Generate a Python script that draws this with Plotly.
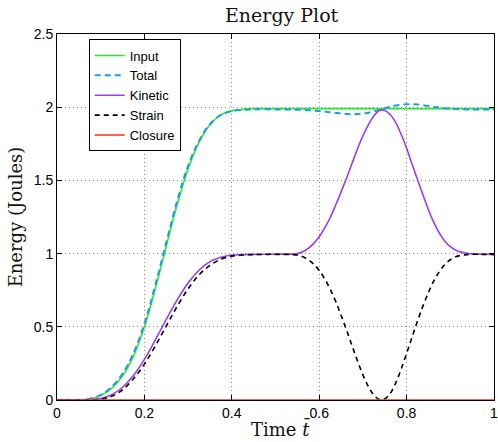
import plotly.graph_objects as go

# Sample times (normalised time t-bar): coarse through the first ramp,
# finer through the exchange between kinetic and strain energy.
t = [0, 0.025, 0.05, 0.075, 0.1, 0.125, 0.15, 0.175, 0.2, 0.225, 0.25, 0.275,
     0.3, 0.325, 0.35, 0.375, 0.4, 0.425, 0.45, 0.5,
     0.55, 0.5625, 0.575, 0.5875, 0.6, 0.6125, 0.625, 0.6375, 0.65, 0.6625,
     0.675, 0.6875, 0.7, 0.7125, 0.725, 0.7375, 0.75, 0.7625, 0.775, 0.7875,
     0.8, 0.8125, 0.825, 0.8375, 0.85, 0.8625, 0.875, 0.8875, 0.9, 0.9125,
     0.925, 0.9375, 0.95, 0.975, 1.0]

# Energy components (Joules)
energy_input = [0, 0, 0, 0.008, 0.03, 0.08, 0.165, 0.30, 0.50, 0.76, 1.05, 1.335,
                1.58, 1.76, 1.88, 1.948, 1.975, 1.985, 1.99, 1.99,
                1.99, 1.99, 1.99, 1.99, 1.99, 1.99, 1.99, 1.99, 1.99, 1.99,
                1.99, 1.99, 1.99, 1.99, 1.99, 1.99, 1.99, 1.99, 1.99, 1.99,
                1.99, 1.99, 1.99, 1.99, 1.99, 1.99, 1.99, 1.99, 1.99, 1.99,
                1.99, 1.99, 1.99, 1.99, 1.99]
energy_total = [0, 0, 0, 0.009, 0.035, 0.09, 0.18, 0.32, 0.52, 0.785, 1.075, 1.36,
                1.60, 1.77, 1.885, 1.948, 1.973, 1.982, 1.985, 1.985,
                1.983, 1.982, 1.98, 1.977, 1.974, 1.97, 1.965, 1.961, 1.957, 1.954,
                1.952, 1.953, 1.956, 1.962, 1.971, 1.982, 1.993, 2.003, 2.011, 2.017,
                2.02, 2.021, 2.019, 2.014, 2.008, 2.002, 1.997, 1.993, 1.99, 1.988,
                1.986, 1.985, 1.985, 1.985, 1.985]
energy_kinetic = [0, 0, 0, 0.002, 0.01, 0.036, 0.087, 0.167, 0.277, 0.41, 0.55, 0.684,
                  0.799, 0.886, 0.945, 0.975, 0.99, 0.993, 0.995, 0.996,
                  1.0, 1.012, 1.035, 1.07, 1.115, 1.175, 1.245, 1.33, 1.42, 1.515,
                  1.615, 1.715, 1.805, 1.88, 1.94, 1.978, 1.978, 1.95, 1.895, 1.815,
                  1.72, 1.612, 1.505, 1.40, 1.30, 1.212, 1.14, 1.085, 1.048, 1.024,
                  1.01, 1.003, 0.998, 0.996, 0.995]
energy_strain = [0, 0, 0, 0.001, 0.005, 0.025, 0.07, 0.145, 0.245, 0.37, 0.505, 0.64,
                 0.76, 0.855, 0.92, 0.962, 0.983, 0.99, 0.993, 0.995,
                 0.99, 0.978, 0.958, 0.928, 0.885, 0.828, 0.758, 0.675, 0.58, 0.478,
                 0.372, 0.268, 0.172, 0.092, 0.034, 0.004, 0.008, 0.045, 0.115, 0.21,
                 0.318, 0.43, 0.54, 0.643, 0.735, 0.815, 0.878, 0.925, 0.958, 0.978,
                 0.988, 0.993, 0.995, 0.995, 0.995]
energy_closure = [0.0] * len(t)

x_ticks = [0, 0.2, 0.4, 0.6, 0.8, 1]
x_tick_text = ["0", "0.2", "0.4", "0.6", "0.8", "1"]
y_ticks = [0, 0.5, 1, 1.5, 2, 2.5]
y_tick_text = ["0", "0.5", "1", "1.5", "2", "2.5"]

series = [
    ("Input", energy_input, "#2ee62e", "solid", 1.6),
    ("Total", energy_total, "#1a9ee8", "6px,4px", 2.0),
    ("Kinetic", energy_kinetic, "#9b3cf0", "solid", 1.6),
    ("Strain", energy_strain, "#000000", "5px,4px", 1.6),
    ("Closure", energy_closure, "#ff3018", "solid", 1.6),
]

fig = go.Figure()
for name, values, color, dash, width in series:
    fig.add_trace(go.Scatter(
        x=t, y=values, name=name, mode="lines",
        line=dict(color=color, dash=dash, width=width, shape="spline", smoothing=1.0),
    ))

serif = "DejaVu Serif"
sans = "Liberation Sans, Arial, sans-serif"

axis_common = dict(
    showline=True, linecolor="black", linewidth=1, mirror="ticks",
    ticks="inside", ticklen=5, tickcolor="black",
    showgrid=True, gridcolor="#8a8a8a", gridwidth=1, griddash="1px,3px",
    zeroline=False, ticklabeloverflow="allow",
    tickfont=dict(family=sans, size=14, color="black"),
)

fig.update_layout(
    width=498, height=442,
    margin=dict(l=57, r=0, t=34, b=42),
    paper_bgcolor="white", plot_bgcolor="white",
    title=dict(text="Energy Plot", x=0.514, xref="paper", xanchor="center",
               y=0.965, yref="container", yanchor="middle",
               font=dict(family=serif, size=19, color="#111")),
    xaxis=dict(range=[0, 1], tickvals=x_ticks, ticktext=x_tick_text, **axis_common),
    yaxis=dict(range=[0, 2.5], tickvals=y_ticks, ticktext=y_tick_text,
               title=dict(text="Energy (Joules)", standoff=6,
                          font=dict(family=serif, size=18, color="#111")),
               **axis_common),
    legend=dict(x=0.0726, y=0.985, xanchor="left", yanchor="top",
                bgcolor="white", bordercolor="black", borderwidth=1,
                font=dict(family=sans, size=13, color="black"),
                itemwidth=30, tracegroupgap=0),
    showlegend=True,
    annotations=[dict(
        text="Time <i>t\u0304</i>", xref="paper", yref="paper",
        x=0.511, y=-0.077, xanchor="center", yanchor="middle", showarrow=False,
        font=dict(family=serif, size=18, color="#111"),
    )],
)

fig.write_html("out.html")
